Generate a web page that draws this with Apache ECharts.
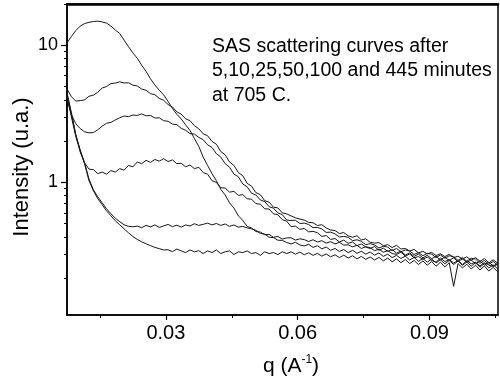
<!DOCTYPE html>
<html><head><meta charset="utf-8">
<script src="https://cdn.jsdelivr.net/npm/echarts@6/dist/echarts.min.js"></script>
<style>html,body{margin:0;padding:0;background:#fff}#c{width:500px;height:382px}</style>
</head><body><div id="c"></div>
<script>
// scattering vector q (A^-1)
const q = [0.0075,0.0085,0.0095,0.0105,0.0115,0.0125,0.0135,0.0145,0.0155,0.0165,
0.0175,0.0185,0.0195,0.0205,0.0215,0.0225,0.0235,0.0245,0.0255,0.0265,
0.0275,0.0285,0.0295,0.0305,0.0315,0.0325,0.0335,0.0345,0.0355,0.0365,
0.0375,0.0385,0.0395,0.0405,0.0415,0.0425,0.0435,0.0445,0.0455,0.0465,
0.0475,0.0485,0.0495,0.0505,0.0515,0.0525,0.0535,0.0545,0.0555,0.0565,
0.0575,0.0585,0.0595,0.0605,0.0615,0.0625,0.0635,0.0645,0.0655,0.0665,
0.0675,0.0685,0.0695,0.0705,0.0715,0.0725,0.0735,0.0745,0.0755,0.0765,
0.0775,0.0785,0.0795,0.0805,0.0815,0.0825,0.0835,0.0845,0.0855,0.0865,
0.0875,0.0885,0.0895,0.0905,0.0915,0.0925,0.0935,0.0945,0.0955,0.0965,
0.0975,0.0985,0.0995,0.1005,0.1015,0.1025,0.1035,0.1045,0.1055];

const curveA = [10.4,11.6,12.8,13.8,14.4,14.7,14.9,15.0,14.8,14.5,
13.8,12.9,12.2,10.9,9.75,8.8,8.05,7.15,6.45,5.7,
5.14,4.70,4.35,3.90,3.46,3.14,2.90,2.63,2.39,2.09,
1.83,1.53,1.33,1.16,1.03,0.89,0.81,0.71,0.65,0.57,
0.53,0.478,0.466,0.438,0.435,0.416,0.418,0.398,0.404,0.386,0.394,
0.395,0.380,0.388,0.383,0.371,0.382,0.368,0.376,0.361,0.370,
0.356,0.366,0.349,0.351,0.339,0.348,0.330,0.340,0.334,0.318,
0.326,0.310,0.318,0.303,0.299,0.310,0.290,0.301,0.282,0.288,
0.275,0.286,0.270,0.262,0.281,0.265,0.274,0.258,0.270,0.252,
0.268,0.255,0.262,0.246,0.260,0.250,0.244,0.253];

const curveB = [4.79,4.22,3.92,3.95,4.00,4.25,4.33,4.55,4.88,5.00,
5.26,5.30,5.42,5.31,5.33,5.12,5.05,4.80,4.70,4.44,
4.36,4.10,3.97,3.70,3.55,3.27,3.15,2.91,2.82,2.59,
2.46,2.26,2.19,1.99,1.90,1.68,1.59,1.41,1.33,1.18,
1.12,0.985,0.94,0.842,0.815,0.736,0.718,0.660,0.652,0.600,0.590,
0.570,0.552,0.541,0.531,0.512,0.508,0.485,0.492,0.466,0.450,
0.446,0.424,0.431,0.408,0.398,0.409,0.381,0.388,0.366,0.361,
0.364,0.346,0.352,0.335,0.348,0.327,0.330,0.316,0.325,0.306,
0.315,0.301,0.309,0.293,0.302,0.288,0.299,0.283,0.290,0.276,
0.287,0.271,0.283,0.266,0.279,0.259,0.273,0.258];

const curveC = [4.02,3.12,2.68,2.47,2.34,2.30,2.31,2.42,2.57,2.70,
2.74,2.86,2.96,3.05,3.02,3.10,3.08,3.16,3.06,3.08,
2.95,2.96,2.82,2.79,2.66,2.64,2.48,2.40,2.27,2.25,
2.13,2.05,1.88,1.80,1.62,1.53,1.37,1.29,1.15,1.10,
0.975,0.93,0.835,0.81,0.745,0.725,0.665,0.650,0.600,0.583,0.532,
0.528,0.530,0.502,0.505,0.494,0.468,0.470,0.458,0.432,0.434,
0.422,0.400,0.404,0.398,0.376,0.382,0.372,0.352,0.358,0.350,
0.333,0.342,0.338,0.318,0.330,0.312,0.322,0.316,0.298,0.308,
0.292,0.304,0.300,0.283,0.296,0.280,0.292,0.288,0.270,0.284,
0.266,0.280,0.276,0.257,0.270,0.253,0.265,0.250];

const curveD = [4.37,3.12,2.23,1.67,1.39,1.25,1.24,1.16,1.19,1.15,
1.22,1.19,1.26,1.23,1.33,1.30,1.41,1.37,1.45,1.40,
1.47,1.43,1.49,1.42,1.46,1.37,1.38,1.30,1.34,1.26,
1.29,1.18,1.15,1.03,1.00,0.915,0.91,0.85,0.86,0.805,
0.815,0.76,0.755,0.70,0.695,0.642,0.64,0.59,0.582,0.535,0.522,
0.476,0.480,0.455,0.462,0.436,0.440,0.430,0.404,0.410,0.384,
0.390,0.368,0.380,0.360,0.368,0.346,0.356,0.338,0.330,0.341,
0.320,0.332,0.314,0.324,0.305,0.316,0.296,0.306,0.289,0.300,
0.282,0.294,0.278,0.290,0.272,0.286,0.270,0.282,0.264,0.277,
0.261,0.272,0.255,0.268,0.250,0.262,0.246,0.256];

const curveE = [4.52,3.23,2.23,1.73,1.39,1.06,0.885,0.786,0.711,0.643,
0.591,0.548,0.517,0.491,0.479,0.475,
0.48,0.468,0.486,0.474,0.49,0.47,0.482,0.494,0.476,0.488,0.472,0.49,0.481,0.50,
0.486,0.495,0.505,0.49,0.502,0.486,0.498,0.478,0.49,0.472,0.478,0.466,
0.459,0.448,0.425,0.420,0.398,0.396,0.379,0.378,0.365,
0.356,0.366,0.350,0.344,0.354,0.336,0.346,0.328,0.338,0.320,
0.330,0.314,0.324,0.308,0.320,0.304,0.315,0.300,0.311,0.295,
0.306,0.289,0.300,0.283,0.294,0.279,0.290,0.272,0.284,0.266,
0.279,0.262,0.276,0.259,0.273,0.255,0.270,0.252,0.267,0.249,
0.263,0.245,0.260,0.241,0.256,0.238,0.251,0.235];

const curveF = [4.30,3.01,2.16,1.70,1.37,1.03,0.870,0.761,0.688,0.621,
0.571,0.525,0.491,0.459,0.429,0.403,0.384,0.369,0.357,0.346,0.336,0.329,0.322,
0.323,0.313,0.327,0.317,0.308,0.322,0.312,0.318,0.303,0.317,0.308,0.322,0.303,0.312,
0.317,0.298,0.312,0.308,0.317,0.303,0.308,0.294,0.312,0.303,0.308,0.298,0.312,0.303,
0.312,0.300,0.310,0.297,0.307,0.294,0.304,0.290,0.301,0.287,
0.297,0.283,0.295,0.281,0.292,0.277,0.289,0.275,0.286,0.272,
0.284,0.268,0.281,0.264,0.277,0.260,0.274,0.256,0.270,0.252,
0.268,0.249,0.265,0.245,0.262,0.242,0.260,0.175,0.256,0.238,
0.253,0.234,0.249,0.230,0.246,0.226,0.240,0.224];

const xTickValues = [0.03, 0.06, 0.09];
const xMinorTicks = [0.015, 0.045, 0.075, 0.105];
const yTickValues = [1, 10];
const yMinorTicks = [0.2,0.3,0.4,0.5,0.6,0.7,0.8,0.9,2,3,4,5,6,7,8,9,20];
const noteLines = ['SAS scattering curves after', '5,10,25,50,100 and 445 minutes', 'at 705 C.'];

const FONT = '"Liberation Sans", Arial, sans-serif';
const X_MIN = 0.0075, X_MAX = 0.1056, Y_MIN = 0.108, Y_MAX = 20;
const curves = [curveA, curveB, curveC, curveD, curveE, curveF];

const chart = echarts.init(document.getElementById('c'), null, {renderer: 'canvas'});
chart.setOption({
  animation: false,
  backgroundColor: '#fff',
  grid: {left: 67, right: 2, top: 4, bottom: 67, show: true, borderColor: '#000', borderWidth: 1.5, backgroundColor: 'transparent'},
  title: {
    text: noteLines.join('\n'), left: 212, top: 34, padding: 0,
    textStyle: {fontFamily: FONT, fontSize: 19.5, fontWeight: 'normal', color: '#000', lineHeight: 24.5}
  },
  xAxis: [
    {
      type: 'value', min: X_MIN, max: X_MAX, position: 'bottom',
      axisLine: {show: true, onZero: false, lineStyle: {color: '#000', width: 1.5}},
      axisTick: {show: true, customValues: xTickValues, length: 5, lineStyle: {color: '#000', width: 1.2}},
      axisLabel: {customValues: xTickValues, margin: 8, fontFamily: FONT, fontSize: 20, color: '#000',
                  formatter: v => v.toFixed(2)},
      splitLine: {show: false},
      name: '{a|q (A}{s|-1}{a|)}', nameLocation: 'middle', nameGap: 39, nameMoveOverlap: false,
      nameTextStyle: {
        padding: [0, 0, 0, 17],
        rich: {
          a: {fontFamily: FONT, fontSize: 21, color: '#000', lineHeight: 24},
          s: {fontFamily: FONT, fontSize: 12, color: '#000', verticalAlign: 'top', lineHeight: 24}
        }
      }
    },
    {
      type: 'value', min: X_MIN, max: X_MAX, position: 'bottom',
      axisLine: {show: false, onZero: false},
      axisTick: {show: true, customValues: xMinorTicks, length: 3, lineStyle: {color: '#000', width: 1}},
      axisLabel: {show: false}, splitLine: {show: false}
    },
    {
      type: 'value', min: X_MIN, max: X_MAX, position: 'top',
      axisLine: {show: true, onZero: false, lineStyle: {color: '#000', width: 2.5}},
      axisTick: {show: false}, axisLabel: {show: false}, splitLine: {show: false}
    }
  ],
  yAxis: [
    {
      type: 'log', logBase: 10, min: Y_MIN, max: Y_MAX, position: 'left',
      axisLine: {show: true, onZero: false, lineStyle: {color: '#000', width: 1.5}},
      axisTick: {show: true, customValues: yTickValues, length: 6, lineStyle: {color: '#000', width: 1.2}},
      axisLabel: {customValues: yTickValues, margin: 9, fontFamily: FONT, fontSize: 18, color: '#000'},
      splitLine: {show: false},
      name: 'Intensity (u.a.)', nameLocation: 'middle', nameGap: 34, nameMoveOverlap: false,
      nameTextStyle: {fontFamily: FONT, fontSize: 22, color: '#000', padding: [0, 15, 0, 0]}
    },
    {
      type: 'log', logBase: 10, min: Y_MIN, max: Y_MAX, position: 'left',
      axisLine: {show: false, onZero: false},
      axisTick: {show: true, customValues: yMinorTicks, length: 3, lineStyle: {color: '#000', width: 1}},
      axisLabel: {show: false}, splitLine: {show: false}
    }
  ],
  series: curves.map(c => ({
    type: 'line', xAxisIndex: 0, yAxisIndex: 0,
    data: q.map((x, i) => [x, c[i]]),
    showSymbol: false, symbol: 'none', silent: true,
    lineStyle: {color: '#161616', width: 1}
  }))
});
</script>
</body></html>
